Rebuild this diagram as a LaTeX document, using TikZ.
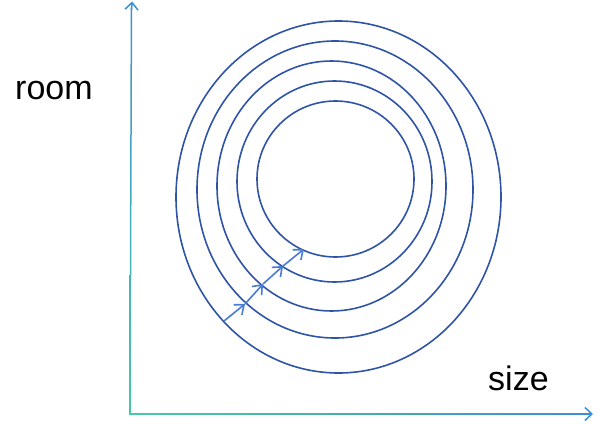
\documentclass[tikz,border=0pt]{standalone}
\usepackage{fontspec}
\setmainfont{Liberation Sans}
\usetikzlibrary{arrows.meta}
\definecolor{ringblue}{HTML}{2F54A6}
\definecolor{stepblue}{HTML}{4A7BD2}
\definecolor{axgreen}{HTML}{48C9A6}
\definecolor{axblue}{HTML}{3C8FD2}
\tikzset{
  ring/.style={draw=ringblue, line width=1.6pt},
  stepline/.style={draw=stepblue, line width=1.6pt, -{Straight Barb[length=8pt,width=13pt]}},
  axhead/.style={draw=axblue, line width=1.5pt, -{Straight Barb[length=7pt,width=13pt]}},
  lbl/.style={font=\fontsize{34}{38}\selectfont, inner sep=0pt}
}
\begin{document}
\begin{tikzpicture}[x=1pt,y=-1pt]
\useasboundingbox (0,0) rectangle (610,423);
% axes
\shade[bottom color=axgreen, top color=axblue] (129.25,414.75) -- (130.75,414.75) -- (132.2,8) -- (130.7,8) -- cycle;
\shade[left color=axgreen, right color=axblue] (129.25,413.25) -- (586,413.25) -- (586,414.75) -- (129.25,414.75) -- cycle;
\coordinate (vtop0) at (131.5,10);
\coordinate (vtop) at (132.1,1.5);
\coordinate (hend0) at (584,414);
\coordinate (hend) at (593,414);
\draw[axhead] (vtop0) -- (vtop);
\draw[axhead] (hend0) -- (hend);
% rings
\draw[ring] (338.5,197) ellipse [x radius=162.5, y radius=176];
\draw[ring] (335,189.5) ellipse [x radius=138, y radius=148.5];
\draw[ring] (331.5,186) ellipse [x radius=114.5, y radius=125];
\draw[ring] (334.5,181.5) ellipse [x radius=97.5, y radius=100.5];
\draw[ring] (335.5,179) ellipse [x radius=78.5, y radius=78];
% steps
\coordinate (p0) at (224,321);
\coordinate (p1) at (245,304);
\coordinate (p2) at (263,284);
\coordinate (p3) at (283,266);
\coordinate (p4) at (304,249);
\draw[stepline] (p0) -- (p1);
\draw[stepline] (p1) -- (p2);
\draw[stepline] (p2) -- (p3);
\draw[stepline] (p3) -- (p4);
% labels
\node[lbl, anchor=base west] (room) at (15,99) {room};
\node[lbl, anchor=base west] (size) at (488,390) {size};
\end{tikzpicture}
\end{document}
